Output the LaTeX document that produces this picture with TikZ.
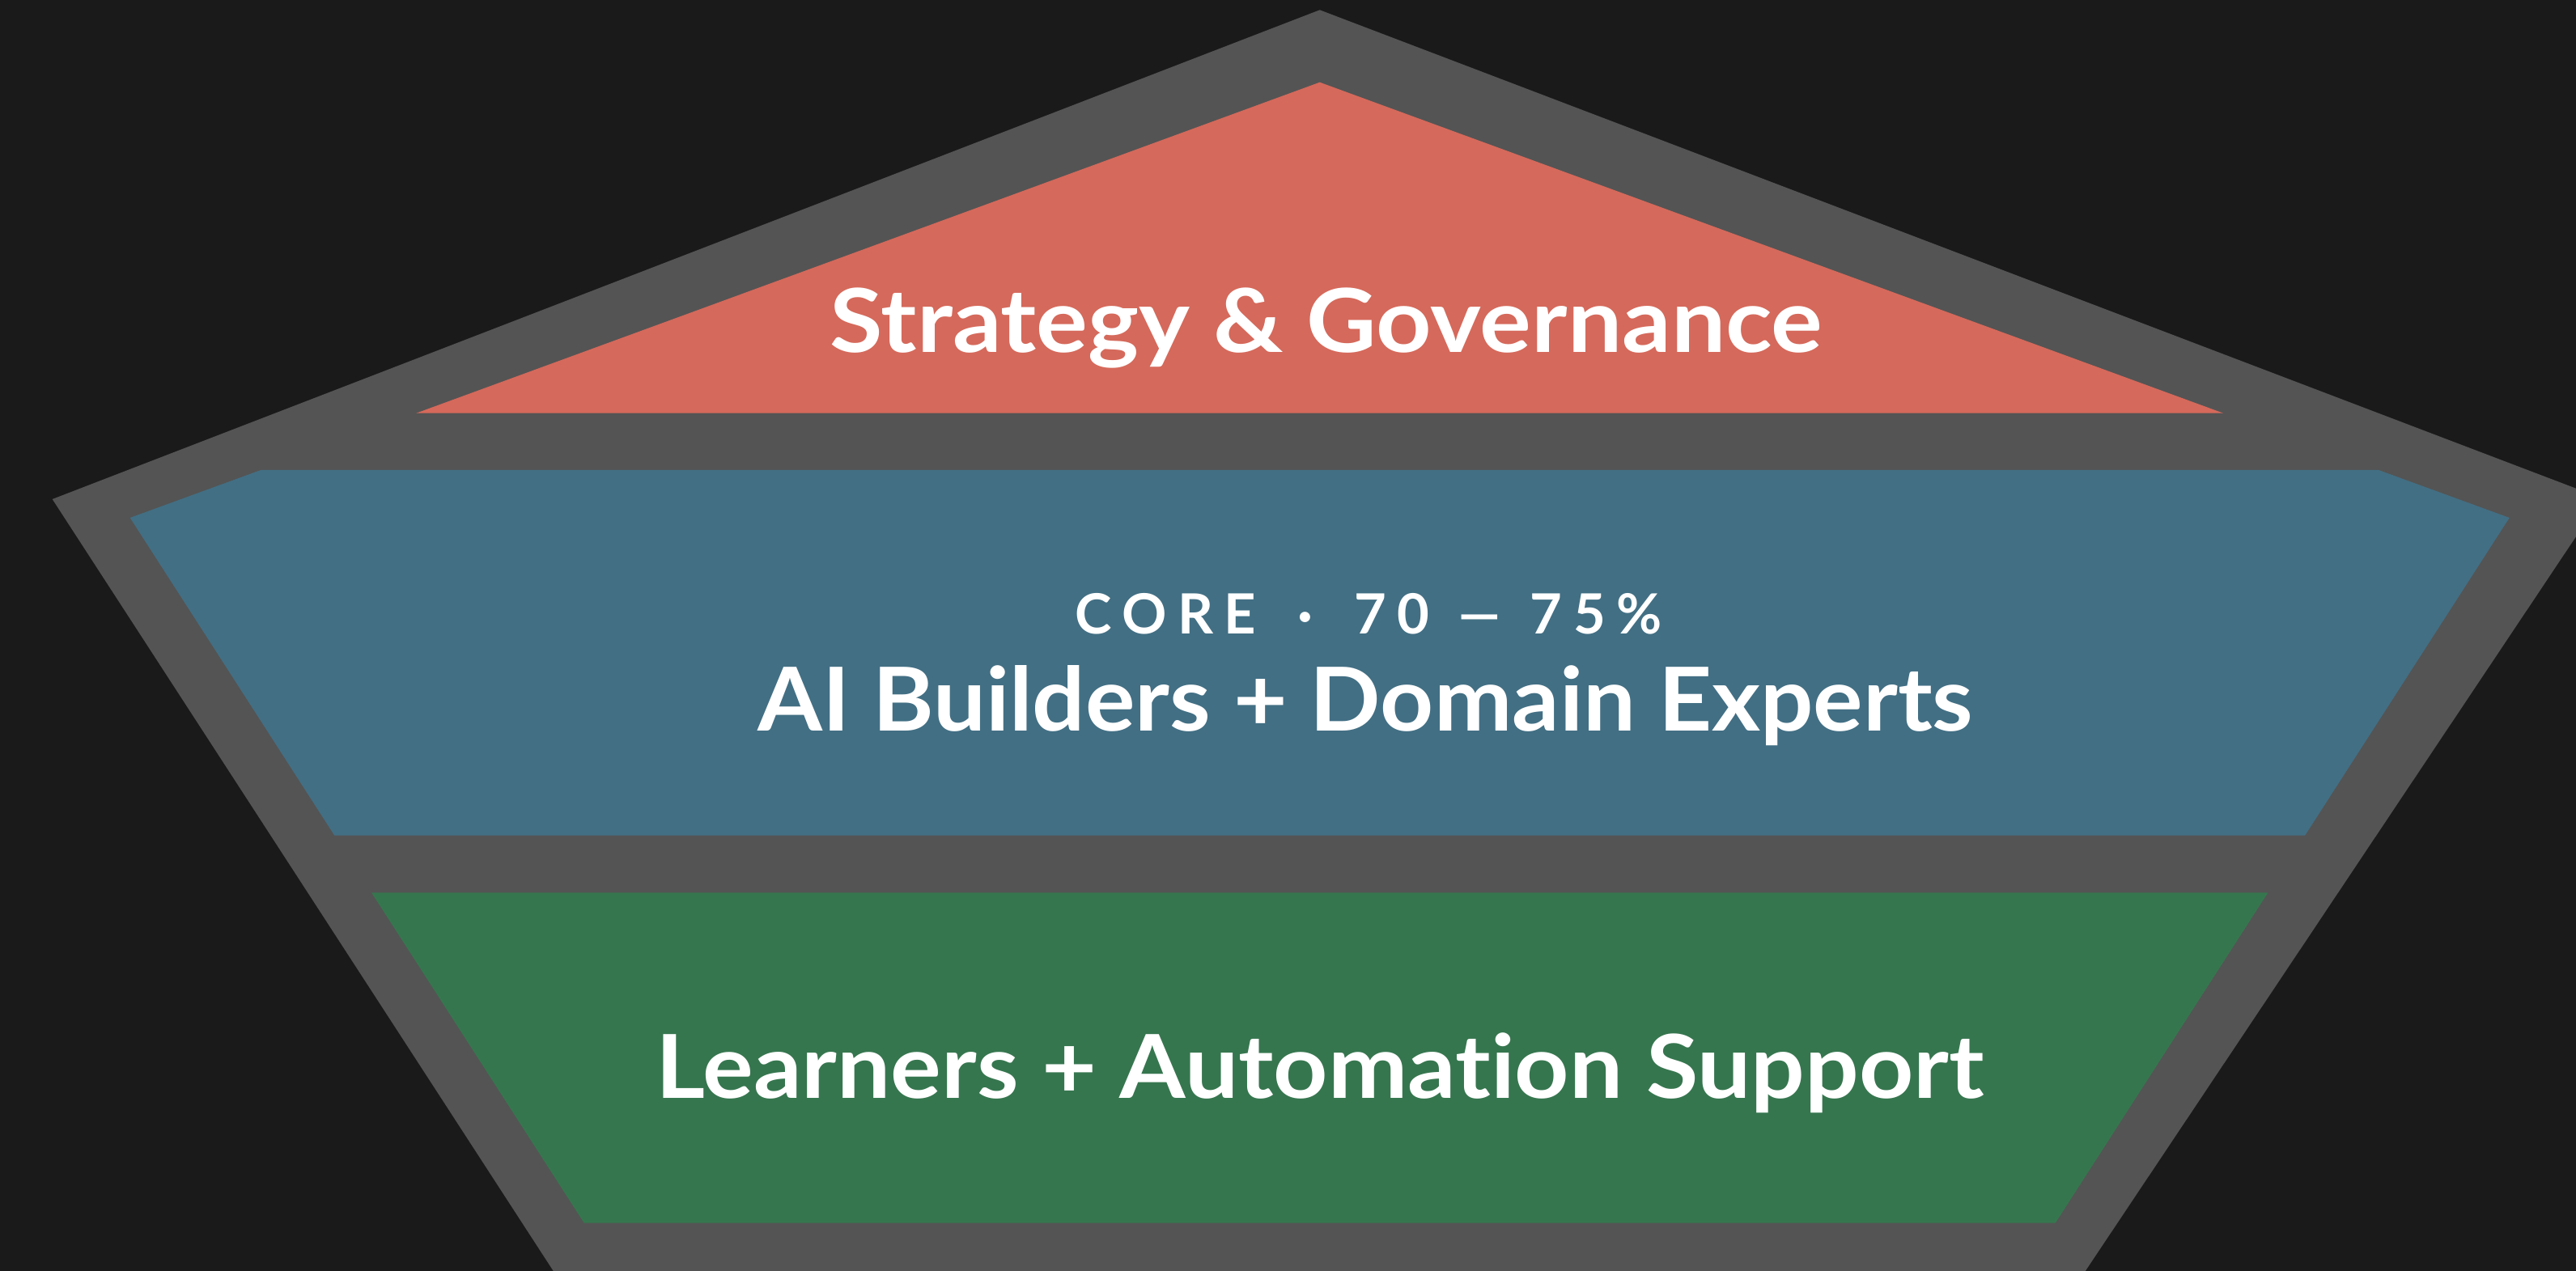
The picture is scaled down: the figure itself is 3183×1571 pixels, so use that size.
\documentclass[tikz,border=0pt]{standalone}
\usepackage{fontspec}
\setmainfont{Lato}[Ligatures=NoCommon]
\newfontfamily\corefont{Lato}[LetterSpace=20,Ligatures=NoCommon]
\definecolor{bgc}{HTML}{1A1A1A}
\definecolor{greyc}{HTML}{545454}
\definecolor{redc}{HTML}{D5695B}
\definecolor{bluec}{HTML}{426F84}
\definecolor{greenc}{HTML}{36764F}
\tikzset{
  lbl/.style={text=white, font=\bfseries\fontsize{31}{31}\selectfont, inner sep=0pt, anchor=base},
  corelbl/.style={text=white, font=\corefont\bfseries\fontsize{19.5}{19.5}\selectfont, inner sep=0pt, anchor=base},
}
\begin{document}
\begin{tikzpicture}[x=0.01cm,y=-0.01cm]
\useasboundingbox (0,0) rectangle (3183,1571);
\clip (0,0) rectangle (3183,1571);
\fill[bgc] (0,0) rectangle (3183,1571);
% outer grey pentagon
\fill[greyc] (1630.7,12.3) -- (3214.7,615.8) -- (2524,1650) -- (735,1650) -- (64.7,617) -- cycle;
% top layer
\fill[redc] (1630.7,101.7) -- (2747.1,510.7) -- (514.3,510.7) -- cycle;
% middle layer
\fill[bluec] (322.3,581) -- (2939.1,581) -- (3100.7,640) -- (2848.1,1032.7) -- (413.3,1032.7) -- (160.7,640) -- cycle;
% bottom layer
\fill[greenc] (459,1103.3) -- (2802.4,1103.3) -- (2539.7,1511.7) -- (721.7,1511.7) -- cycle;
% labels
\node[lbl] (strat) at (1639,435.7) {\scalebox{1.095}[1]{Strategy \& Governance}};
\node[corelbl] (core) at (1691,784) {CORE\hspace{0.3em} · \hspace{0.3em}70 \scalebox{1.6}[1]{–} 75\%};
\node[lbl] (build) at (1687,904) {\scalebox{1.056}[1]{AI Builders + Domain Experts}};
\node[lbl] (learn) at (1631,1357.3) {\scalebox{1.077}[1]{Learners + Automation Support}};
\end{tikzpicture}
\end{document}
